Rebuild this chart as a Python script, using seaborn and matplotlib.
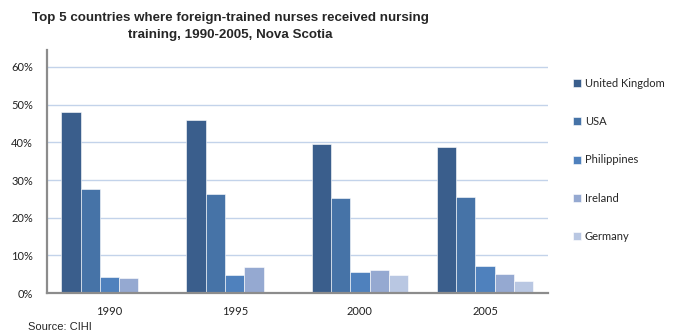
import matplotlib
matplotlib.use("Agg")
import matplotlib.pyplot as plt
import seaborn as sns
import pandas as pd
from matplotlib.ticker import PercentFormatter

# Share of foreign-trained nurses by country of training, Nova Scotia
years = ["1990", "1995", "2000", "2005"]
countries = ["United Kingdom", "USA", "Philippines", "Ireland", "Germany"]
united_kingdom = [48.0, 45.9, 39.6, 38.8]
usa = [27.7, 26.4, 25.3, 25.6]
philippines = [4.3, 4.9, 5.5, 7.2]
ireland = [4.1, 6.9, 6.1, 5.2]
germany = [0.0, 0.0, 4.9, 3.1]
y_ticks = [0, 10, 20, 30, 40, 50, 60]

colors = ["#3A5E8C", "#4673A7", "#4F81BD", "#95A9D1", "#B9C7E2"]

series = [united_kingdom, usa, philippines, ireland, germany]
rows = []
for country, values in zip(countries, series):
    for year, v in zip(years, values):
        rows.append({"Year": year, "Country": country, "Share": v})
df = pd.DataFrame(rows)

sns.set_theme(style="white")
plt.rcParams["font.family"] = ["Lato", "DejaVu Sans"]

fig = plt.figure(figsize=(6.89, 3.35), dpi=100)
ax = fig.add_axes([0.068, 0.125, 0.727, 0.726])

sns.barplot(data=df, x="Year", y="Share", hue="Country", hue_order=countries,
            order=years, palette=colors, width=0.77, saturation=1,
            edgecolor="white", linewidth=0.4, ax=ax, legend=True)

ax.set_ylim(0, 64.5)
ax.set_yticks(y_ticks)
ax.yaxis.set_major_formatter(PercentFormatter(decimals=0))
ax.set_xlabel("")
ax.set_ylabel("")
ax.grid(axis="y", color="#C3D3EA", linewidth=1)
ax.set_axisbelow(True)
for side in ("top", "right"):
    ax.spines[side].set_visible(False)
for side in ("left", "bottom"):
    ax.spines[side].set_color("#8C8C8C")
    ax.spines[side].set_linewidth(1.6)
ax.tick_params(axis="both", labelsize=8, colors="#222222", length=0)
ax.tick_params(axis="x", pad=9.5)
ax.tick_params(axis="y", pad=10)

handles, labels = ax.get_legend_handles_labels()
ax.get_legend().remove()
fig.legend(handles, labels, loc="upper left", bbox_to_anchor=(0.831, 0.767),
           frameon=False, fontsize=8, labelspacing=2.45, handlelength=0.75,
           handleheight=0.75, handletextpad=0.35, borderpad=0, borderaxespad=0)

fig.text(0.334, 0.965,
         "Top 5 countries where foreign-trained nurses received nursing\ntraining, 1990-2005, Nova Scotia",
         ha="center", va="top", fontsize=9.6, fontweight="bold",
         family=["Liberation Sans Narrow", "Liberation Sans", "DejaVu Sans"],
         linespacing=1.6)
fig.text(0.04, 0.01, "Source: CIHI", ha="left", va="bottom", fontsize=8,
         family=["Liberation Sans Narrow", "Liberation Sans", "DejaVu Sans"])

fig.savefig("out.png", dpi=100, facecolor="white")
